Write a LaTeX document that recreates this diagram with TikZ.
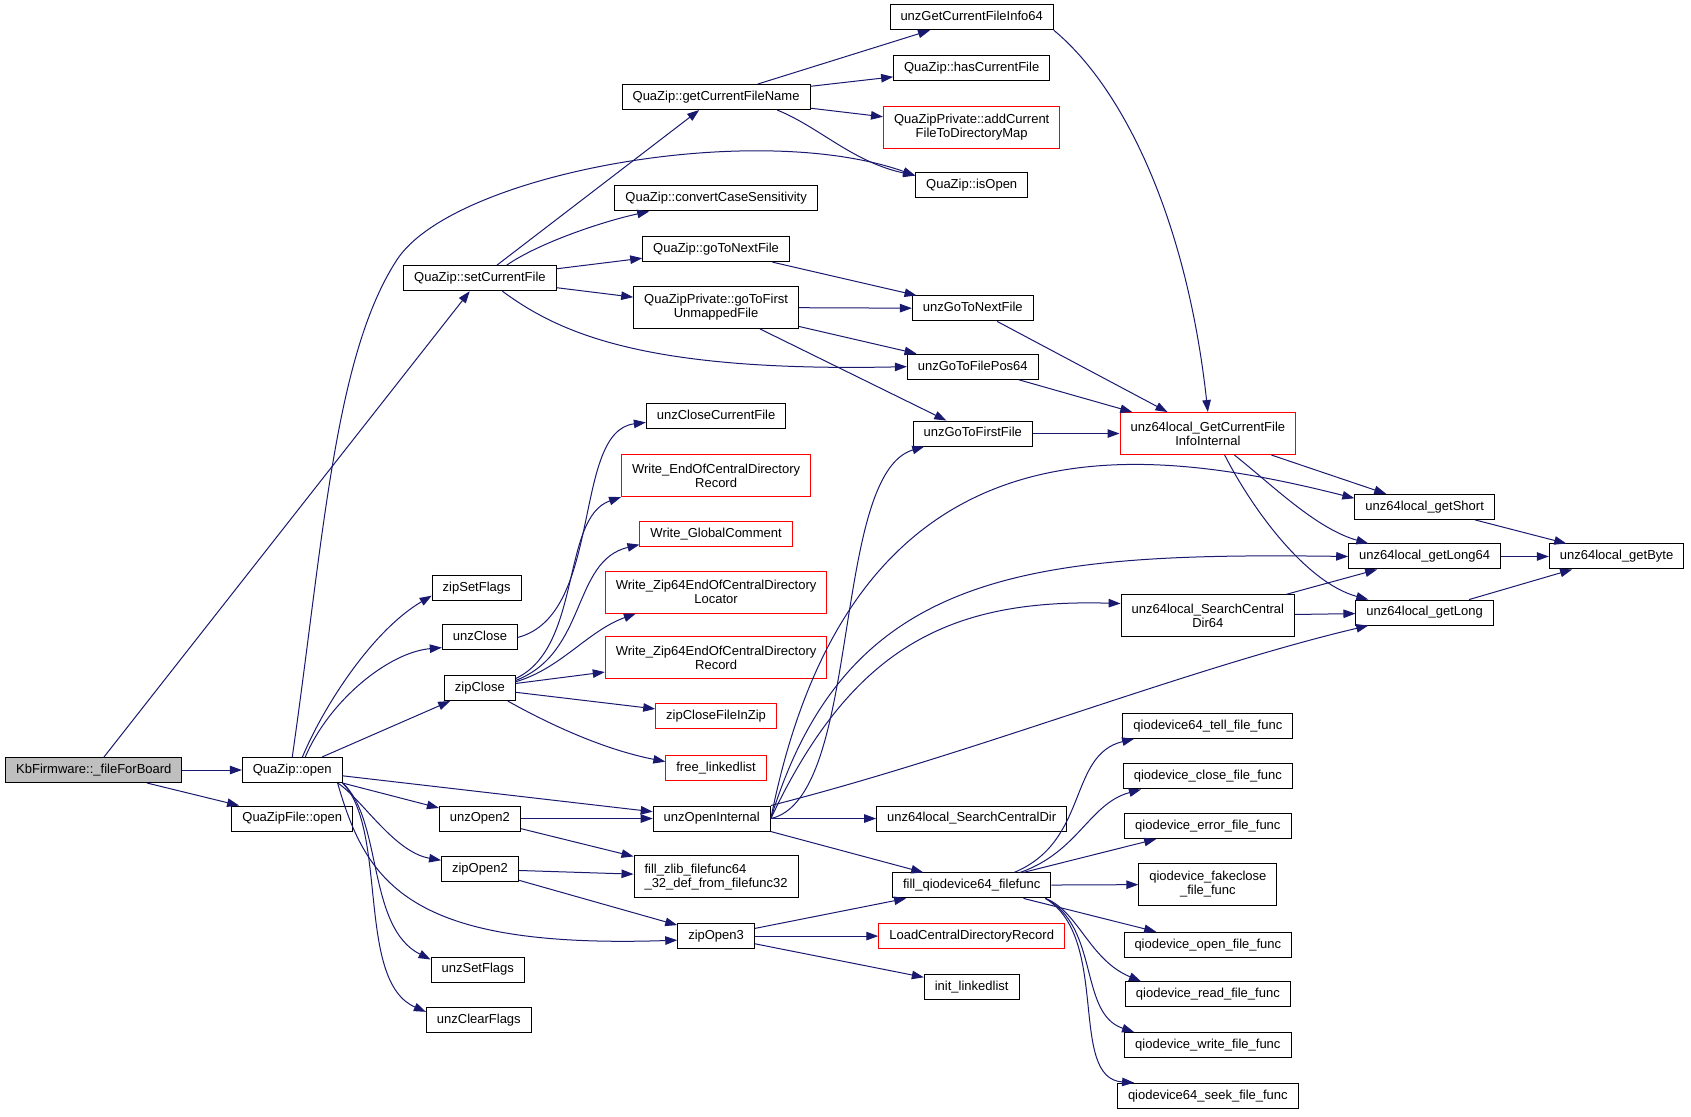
\documentclass[tikz,border=0pt]{standalone}
\usepackage{fontspec}
\setmainfont{Liberation Sans}
\usetikzlibrary{arrows.meta}
\definecolor{Edge}{RGB}{25,25,112}
\definecolor{Root}{RGB}{191,191,191}
\definecolor{Missing}{RGB}{255,0,0}

\begin{document}
\begin{tikzpicture}[x=1.0784pt, y=-1.0784pt,
    fn/.style={draw=black, line width=1pt, fill=white, font=\fontsize{13}{14}\selectfont,
        inner xsep=10.5pt, inner ysep=2pt, minimum height=25pt, text height=9.6pt, text depth=2.8pt},
    two/.style={align=center, minimum height=42pt, text height={}, text depth={}},
    ext/.style={draw=Missing},
    call/.style={draw=Edge, line width=1pt, -{Triangle[length=12pt,width=8.5pt]}}]
    %%Background
    \fill[white] (0,0) rectangle (1568,1035);
    \useasboundingbox (0,0) rectangle (1568,1035);

    %% Caller
    \node[fn, fill=Root] (fileForBoard) at (87,714) {KbFirmware::\_fileForBoard};

    %% Level 1
    \node[fn] (qzOpen) at (271,714) {QuaZip::open};
    \node[fn] (qzFileOpen) at (271,759) {QuaZipFile::open};

    %% Level 2
    \node[fn] (setCurrentFile) at (445,258) {QuaZip::setCurrentFile};
    \node[fn] (zipSetFlags) at (442,545) {zipSetFlags};
    \node[fn] (unzClose) at (445,591) {unzClose};
    \node[fn] (zipClose) at (445,638) {zipClose};
    \node[fn] (unzOpen2) at (445,759) {unzOpen2};
    \node[fn] (zipOpen2) at (445,806) {zipOpen2};
    \node[fn] (unzSetFlags) at (443,899) {unzSetFlags};
    \node[fn] (unzClearFlags) at (444,946) {unzClearFlags};

    %% Level 3
    \node[fn] (getCurrentFileName) at (664,90) {QuaZip::getCurrentFileName};
    \node[fn] (convertCase) at (664,184) {QuaZip::convertCaseSensitivity};
    \node[fn] (qzGoToNextFile) at (664,231) {QuaZip::goToNextFile};
    \node[fn, two] (goToFirstUnmapped) at (664,285) {QuaZipPrivate::goToFirst\\UnmappedFile};
    \node[fn] (unzCloseCurrentFile) at (664,386) {unzCloseCurrentFile};
    \node[fn, two, ext] (writeEndCD) at (664,441) {Write\_EndOfCentralDirectory\\Record};
    \node[fn, ext] (writeGlobal) at (664,495) {Write\_GlobalComment};
    \node[fn, two, ext] (writeZ64Locator) at (664,549) {Write\_Zip64EndOfCentralDirectory\\Locator};
    \node[fn, two, ext] (writeZ64Record) at (664,610) {Write\_Zip64EndOfCentralDirectory\\Record};
    \node[fn, ext] (zipCloseFileInZip) at (664,664) {zipCloseFileInZip};
    \node[fn, ext] (freeLinkedlist) at (664,712) {free\_linkedlist};
    \node[fn] (unzOpenInternal) at (660,759) {unzOpenInternal};
    \node[fn, two, align=left] (fillZlib) at (664,813) {fill\_zlib\_filefunc64\\\_32\_def\_from\_filefunc32};
    \node[fn] (zipOpen3) at (664,868) {zipOpen3};

    %% Level 4
    \node[fn] (unzGetCurrentFileInfo) at (901,16) {unzGetCurrentFileInfo64};
    \node[fn] (hasCurrentFile) at (901,63) {QuaZip::hasCurrentFile};
    \node[fn, two, ext] (addCurrentFile) at (901,118) {QuaZipPrivate::addCurrent\\FileToDirectoryMap};
    \node[fn] (isOpen) at (901,172) {QuaZip::isOpen};
    \node[fn] (unzGoToNextFile) at (902,286) {unzGoToNextFile};
    \node[fn] (unzGoToFilePos) at (902,340) {unzGoToFilePos64};
    \node[fn] (unzGoToFirstFile) at (902,402) {unzGoToFirstFile};
    \node[fn] (searchCD) at (901,759) {unz64local\_SearchCentralDir};
    \node[fn] (fillQiodevice) at (901,821) {fill\_qiodevice64\_filefunc};
    \node[fn, ext] (loadCentralDir) at (901,868) {LoadCentralDirectoryRecord};
    \node[fn] (initLinkedlist) at (901,915) {init\_linkedlist};

    %% Level 5
    \node[fn, two, ext] (getCFInfoInternal) at (1120,402) {unz64local\_GetCurrentFile\\InfoInternal};
    \node[fn, two] (searchCD64) at (1120,571) {unz64local\_SearchCentral\\Dir64};
    \node[fn] (tellFunc) at (1120,673) {qiodevice64\_tell\_file\_func};
    \node[fn] (closeFunc) at (1120,720) {qiodevice\_close\_file\_func};
    \node[fn] (errorFunc) at (1120,766) {qiodevice\_error\_file\_func};
    \node[fn, two] (fakecloseFunc) at (1120,820) {qiodevice\_fakeclose\\\_file\_func};
    \node[fn] (openFunc) at (1120,876) {qiodevice\_open\_file\_func};
    \node[fn] (readFunc) at (1120,922) {qiodevice\_read\_file\_func};
    \node[fn] (writeFunc) at (1120,969) {qiodevice\_write\_file\_func};
    \node[fn] (seekFunc) at (1120,1016) {qiodevice64\_seek\_file\_func};

    %% Level 6 and 7
    \node[fn] (getShort) at (1321,470) {unz64local\_getShort};
    \node[fn] (getLong64) at (1321,516) {unz64local\_getLong64};
    \node[fn] (getLong) at (1321,568) {unz64local\_getLong};
    \node[fn] (getByte) at (1499,516) {unz64local\_getByte};

    %% Calls from the caller
    \draw[call] (fileForBoard) -- (qzOpen);
    \draw[call] (fileForBoard) -- (qzFileOpen);
    \draw[call] (fileForBoard) -- (setCurrentFile);

    %% QuaZip::open
    \draw[call] (qzOpen.north) .. controls (300,500) and (310,330) .. (368,241)
        .. controls (420,161) and (700,110) .. (isOpen.170);
    \draw[call] (qzOpen.52) .. controls (300,655) and (345,585) .. (zipSetFlags.190);
    \draw[call] (qzOpen.45) .. controls (305,650) and (360,605) .. (unzClose.195);
    \draw[call] (qzOpen) -- (zipClose);
    \draw[call] (qzOpen) -- (unzOpenInternal);
    \draw[call] (qzOpen) -- (unzOpen2);
    \draw[call] (qzOpen.344) .. controls (335,740) and (365,790) .. (zipOpen2.167);
    \draw[call] (qzOpen.344) .. controls (340,820) and (380,880) .. (zipOpen3.186);
    \draw[call] (qzOpen.south east) .. controls (355,760) and (340,860) .. (unzSetFlags.168);
    \draw[call] (qzOpen.south east) .. controls (360,770) and (330,910) .. (unzClearFlags.171);

    %% setCurrentFile
    \draw[call] (setCurrentFile) -- (getCurrentFileName);
    \draw[call] (setCurrentFile.26) .. controls (500,225) and (560,205) .. (convertCase.191);
    \draw[call] (setCurrentFile) -- (qzGoToNextFile);
    \draw[call] (setCurrentFile) -- (goToFirstUnmapped);
    \draw[call] (setCurrentFile.330) .. controls (520,310) and (600,345) .. (unzGoToFilePos.west);

    %% getCurrentFileName
    \draw[call] (getCurrentFileName) -- (unzGetCurrentFileInfo);
    \draw[call] (getCurrentFileName) -- (hasCurrentFile);
    \draw[call] (getCurrentFileName) -- (addCurrentFile);
    \draw[call] (getCurrentFileName.348) .. controls (760,118) and (790,150) .. (isOpen.170);

    %% goTo...
    \draw[call] (qzGoToNextFile) -- (unzGoToNextFile);
    \draw[call] (goToFirstUnmapped) -- (unzGoToNextFile);
    \draw[call] (goToFirstUnmapped) -- (unzGoToFilePos);
    \draw[call] (goToFirstUnmapped) -- (unzGoToFirstFile);

    %% close
    \draw[call] (unzClose.east) .. controls (560,570) and (530,400) .. (unzCloseCurrentFile.185);
    \draw[call] (zipClose.15) .. controls (540,600) and (520,480) .. (writeEndCD.south west);
    \draw[call] (zipClose.12) .. controls (545,605) and (530,520) .. (writeGlobal.188);
    \draw[call] (zipClose.10) .. controls (520,620) and (545,585) .. (writeZ64Locator.195);
    \draw[call] (zipClose) -- (writeZ64Record);
    \draw[call] (zipClose) -- (zipCloseFileInZip);
    \draw[call] (zipClose.335) .. controls (510,672) and (560,695) .. (freeLinkedlist.173);

    %% open
    \draw[call] (unzOpen2) -- (unzOpenInternal);
    \draw[call] (unzOpen2) -- (fillZlib);
    \draw[call] (zipOpen2) -- (fillZlib);
    \draw[call] (zipOpen2) -- (zipOpen3);
    \draw[call] (zipOpen3) -- (fillQiodevice);
    \draw[call] (zipOpen3) -- (loadCentralDir);
    \draw[call] (zipOpen3) -- (initLinkedlist);

    %% unzOpenInternal
    \draw[call] (unzOpenInternal.east) .. controls (800,740) and (770,440) .. (unzGoToFirstFile.195);
    \draw[call] (unzOpenInternal.east) .. controls (790,380) and (1050,410) .. (getShort.173);
    \draw[call] (unzOpenInternal.east) .. controls (785,530) and (950,512) .. (getLong64.west);
    \draw[call] (unzOpenInternal.east) .. controls (790,600) and (880,555) .. (searchCD64.172);
    \draw[call] (unzOpenInternal.north east) .. controls (900,700) and (1100,620) .. (getLong.193);
    \draw[call] (unzOpenInternal) -- (searchCD);
    \draw[call] (unzOpenInternal.south east) -- (fillQiodevice);

    %% file info
    \draw[call] (unzGetCurrentFileInfo.351) .. controls (1040,80) and (1100,200) .. (getCFInfoInternal.north);
    \draw[call] (unzGoToNextFile) -- (getCFInfoInternal);
    \draw[call] (unzGoToFilePos) -- (getCFInfoInternal);
    \draw[call] (unzGoToFirstFile) -- (getCFInfoInternal);

    %% readers
    \draw[call] (getCFInfoInternal) -- (getShort);
    \draw[call] (getCFInfoInternal.321) .. controls (1180,450) and (1220,490) .. (getLong64.167);
    \draw[call] (getCFInfoInternal.308) .. controls (1160,470) and (1210,540) .. (getLong.167);
    \draw[call] (searchCD64) -- (getLong64);
    \draw[call] (searchCD64) -- (getLong);
    \draw[call] (getShort) -- (getByte);
    \draw[call] (getLong64) -- (getByte);
    \draw[call] (getLong) -- (getByte);

    %% qiodevice
    \draw[call] (fillQiodevice.17) .. controls (1010,780) and (990,700) .. (tellFunc.190);
    \draw[call] (fillQiodevice.15) .. controls (1000,790) and (1010,745) .. (closeFunc.191);
    \draw[call] (fillQiodevice) -- (errorFunc);
    \draw[call] (fillQiodevice) -- (fakecloseFunc);
    \draw[call] (fillQiodevice) -- (openFunc);
    \draw[call] (fillQiodevice.350) .. controls (1000,845) and (1010,890) .. (readFunc.169);
    \draw[call] (fillQiodevice.350) .. controls (1020,860) and (1000,940) .. (writeFunc.170);
    \draw[call] (fillQiodevice.350) .. controls (1030,870) and (990,1000) .. (seekFunc.170);
\end{tikzpicture}
\end{document}
